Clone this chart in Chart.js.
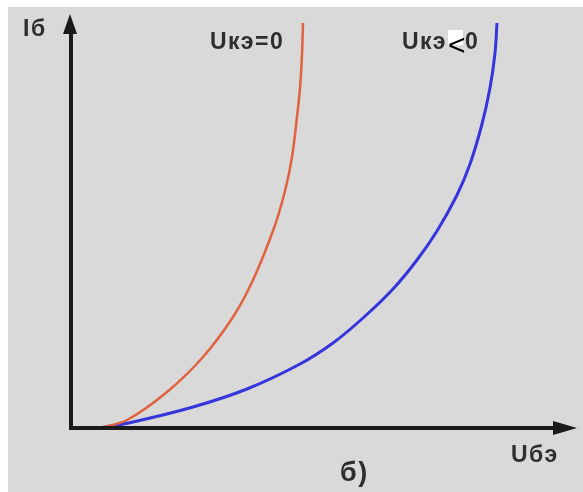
<!DOCTYPE html>
<html>
<head>
<meta charset="utf-8">
<script src="https://cdn.jsdelivr.net/npm/chart.js@4.4.1/dist/chart.umd.min.js"></script>
<style>
  html, body { margin: 0; padding: 0; background: #ffffff; }
  #wrap { position: absolute; left: 8px; top: 7px; width: 575px; height: 485px; background: #d9d9d9; }
</style>
</head>
<body>
<div id="wrap"><canvas id="myChart" width="575" height="485"></canvas></div>
<script>
// input characteristics Iб(Uбэ), arbitrary units
const ubeZero = [0.575, 1.111, 1.905, 2.619, 3.214, 3.611, 4.028, 4.246, 4.385, 4.484, 4.544, 4.583, 4.603];
const ibZero  = [0,     0.2,   0.9,   1.775, 2.775, 3.7,   5.0,   5.925, 6.775, 7.775, 8.5,   9.325, 10.125];

const ubeNeg = [0.575, 1.230, 2.421, 3.492, 4.544, 5.198, 5.794, 6.389, 6.865, 7.262, 7.659, 7.917, 8.155, 8.313, 8.413, 8.452];
const ibNeg  = [0,     0.15,  0.525, 0.975, 1.6,   2.125, 2.75,  3.475, 4.2,   4.925, 5.825, 6.6,   7.6,   8.5,   9.375, 10.125];

const xAxisLabel = 'Uбэ';
const yAxisLabel = 'Iб';
const curveLabels = ['Uкэ=0', 'Uкэ', '<', '0'];
const caption = 'б)';

const toPoints = (xs, ys) => xs.map((x, i) => ({x: x, y: ys[i]}));

// axes with arrows + texts
const drawing = {
  id: 'drawing',
  afterDraw(chart) {
    const ctx = chart.ctx;
    const a = chart.chartArea;
    ctx.save();
    ctx.strokeStyle = '#1a1a1a';
    ctx.fillStyle = '#1a1a1a';
    ctx.lineWidth = 4;
    ctx.beginPath();
    ctx.moveTo(a.left, a.bottom + 2);
    ctx.lineTo(a.left, a.top + 10);
    ctx.moveTo(a.left - 2, a.bottom);
    ctx.lineTo(a.right - 16, a.bottom);
    ctx.stroke();
    // arrow heads
    ctx.beginPath();
    ctx.moveTo(a.left - 1, a.top - 6);
    ctx.lineTo(a.left - 8, a.top + 14);
    ctx.lineTo(a.left + 6, a.top + 14);
    ctx.closePath();
    ctx.fill();
    ctx.beginPath();
    ctx.moveTo(a.right + 2, a.bottom);
    ctx.lineTo(a.right - 22, a.bottom - 7);
    ctx.lineTo(a.right - 22, a.bottom + 7);
    ctx.closePath();
    ctx.fill();

    ctx.fillStyle = '#2e2e2e';
    ctx.textBaseline = 'middle';
    ctx.letterSpacing = '1.5px';
    ctx.font = 'bold 23px "Liberation Sans", Arial, sans-serif';
    ctx.fillText(yAxisLabel, 15, 23);
    ctx.fillText(curveLabels[0], 202, 36);
    ctx.fillText(curveLabels[1], 394, 36);
    ctx.fillText(curveLabels[3], 457, 36);
    ctx.fillText(xAxisLabel, 503, 449);
    ctx.font = 'bold 27px "Liberation Sans", Arial, sans-serif';
    ctx.fillText(caption, 332, 467);
    // pasted "<" sign
    ctx.letterSpacing = '0px';
    ctx.fillStyle = '#ffffff';
    ctx.fillRect(440, 23, 15, 15);
    ctx.fillStyle = '#000000';
    ctx.font = '30px "Liberation Sans", Arial, sans-serif';
    ctx.fillText(curveLabels[2], 440, 40);
    ctx.restore();
  }
};

new Chart(document.getElementById('myChart').getContext('2d'), {
  type: 'line',
  data: {
    datasets: [
      {
        label: curveLabels[0],
        data: toPoints(ubeZero, ibZero),
        borderColor: '#e0623e',
        borderWidth: 2.5,
        pointRadius: 0,
        tension: 0.35,
        clip: false
      },
      {
        label: curveLabels[1] + curveLabels[2] + curveLabels[3],
        data: toPoints(ubeNeg, ibNeg),
        borderColor: '#3535dc',
        borderWidth: 3,
        pointRadius: 0,
        tension: 0.35,
        clip: false
      }
    ]
  },
  options: {
    responsive: false,
    animation: false,
    layout: { padding: { left: 63, right: 8, top: 13, bottom: 64 } },
    plugins: { legend: { display: false }, tooltip: { enabled: false } },
    scales: {
      x: { type: 'linear', min: 0, max: 10, display: false },
      y: { type: 'linear', min: 0, max: 10.2, display: false }
    }
  },
  plugins: [drawing]
});
</script>
</body>
</html>
